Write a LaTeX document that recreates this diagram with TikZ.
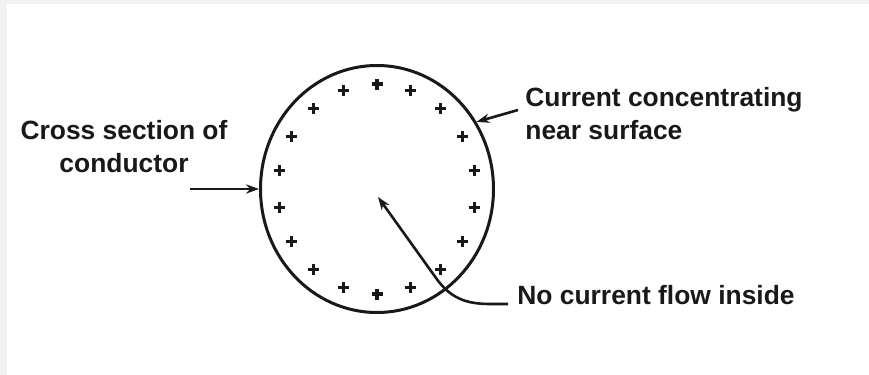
\documentclass[tikz,border=0pt]{standalone}
\usepackage{fontspec}
\setmainfont{Liberation Sans}
\usetikzlibrary{shapes.geometric, arrows.meta, positioning, calc}
\definecolor{inkdark}{RGB}{25,25,25}
\definecolor{edgegray}{RGB}{242,242,242}
\tikzset{
  lbltext/.style={font=\fontsize{13.2}{16.5}\selectfont\bfseries, text=inkdark, inner sep=0pt},
  pointer/.style={-{Stealth[length=6.5pt, width=4.6pt]}, line width=1.3pt, draw=inkdark},
  plusmark/.style={line width=1.6pt, draw=inkdark},
  conductor/.style={ellipse, draw=inkdark, line width=1.5pt, inner sep=0pt,
    minimum width=116.5pt, minimum height=123.5pt}
}
\begin{document}
\begin{tikzpicture}[x=0.5pt, y=-0.5pt]
  % Frame
  \useasboundingbox (0,0) rectangle (869,375);
  \fill[edgegray] (0,0) rectangle (869,375);
  \fill[white] (7,4) rectangle (869,375);

  % Conductor
  \node[conductor] (cond) at (377,189) {};

  % Charges near the surface
  \foreach \a in {10,30,...,350}
    \draw[plusmark] (cond.center) ++(\a:99 and 105) +(-5.5,0) -- +(5.5,0) +(0,-5.5) -- +(0,5.5);

  % Labels
  \node[lbltext, align=center] (cross) at (124,147) {Cross section of\\conductor};
  \node[lbltext, align=left, anchor=west] (surf) at (525,114) {Current concentrating\\near surface};
  \node[lbltext, anchor=base west] (flow) at (517,304) {No current flow inside};

  % Pointers
  \coordinate (crosstail) at (190,189);
  \coordinate (surftail) at (518,110);
  \coordinate (tip) at ($(cond.center)+(1,8)$);
  \draw[pointer] (crosstail) -- (cond.west);
  \draw[pointer] (surftail) -- (cond.34);
  \draw[pointer] ($(flow.base west)+(-9,0)$) -- (490,304) .. controls (465,304) and (450,297.6) .. (436,278) -- (tip);
\end{tikzpicture}
\end{document}
